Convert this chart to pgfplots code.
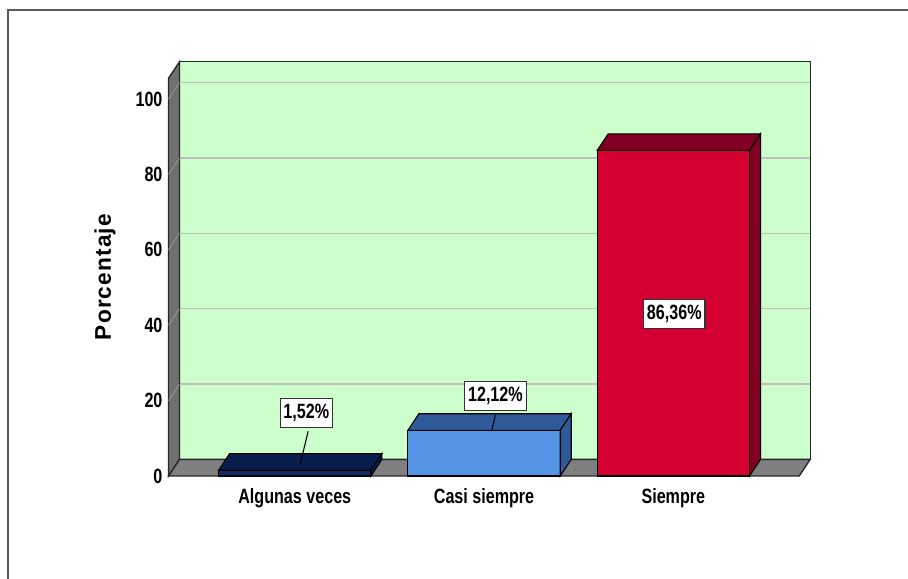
\documentclass[border=0pt]{standalone}
\usepackage{pgfplots}
\pgfplotsset{compat=1.18}
\usepackage{fontspec}
\setmainfont{Liberation Sans}
\newfontfamily\narrow{Liberation Sans}[FakeStretch=0.78]
\newfontfamily\spaced{Liberation Sans}[LetterSpace=5]
\definecolor{wallgreen}{HTML}{CCFFCC}
\definecolor{wallgray}{HTML}{707070}
\definecolor{floorgray}{HTML}{7F7F7F}
\definecolor{gridgray}{HTML}{BDBDBD}
\definecolor{navyfront}{HTML}{112B66}
\definecolor{navytop}{HTML}{0A1E4E}
\definecolor{bluefront}{HTML}{5594E4}
\definecolor{bluetop}{HTML}{2E5B98}
\definecolor{redfront}{HTML}{D50032}
\definecolor{redtop}{HTML}{7F0020}
\begin{document}
\begin{tikzpicture}
\useasboundingbox (0pt,0pt) rectangle (681pt,434.25pt);
\draw[line width=1.5pt, color=black!65] (6pt,-2pt) -- (6pt,427pt) -- (683pt,427pt);
\begin{axis}[
  at={(126.375pt,77.25pt)}, anchor=south west, scale only axis,
  width=481.3pt, height=310.7pt,
  xmin=-0.667, xmax=2.7231, ymin=0, ymax=109.9,
  clip=false,
  axis line style={draw=none}, major tick length=0pt,
  xtick={0,1,2}, xticklabels={Algunas veces, Casi siempre, Siempre},
  ytick={0,20,40,60,80,100},
  /pgf/number format/assume math mode=true,
  ticklabel style={font=\narrow\bfseries\fontsize{15.5}{17}\selectfont, text=black},
  xticklabel style={yshift=-6pt},
  yticklabel style={xshift=-1pt},
  ylabel={Porcentaje},
  ylabel style={at={(axis description cs:-0.099,0.48)}, anchor=center,
    font=\spaced\bfseries\fontsize{17}{19}\selectfont, text=black},
]
% back wall
\addplot[fill=wallgreen, draw=black!85, line width=1pt] coordinates {(-0.6089,4.4) (2.7231,4.4) (2.7231,109.9) (-0.6089,109.9)} -- cycle;
% gridlines on back wall
\addplot[gridgray, line width=1pt] coordinates {(-0.6089,24.4) (2.7231,24.4)};
\addplot[gridgray, line width=1pt] coordinates {(-0.6089,44.4) (2.7231,44.4)};
\addplot[gridgray, line width=1pt] coordinates {(-0.6089,64.4) (2.7231,64.4)};
\addplot[gridgray, line width=1pt] coordinates {(-0.6089,84.4) (2.7231,84.4)};
\addplot[gridgray, line width=1pt] coordinates {(-0.6089,104.4) (2.7231,104.4)};
% left wall
\addplot[fill=wallgray, draw=black!85, line width=1pt] coordinates {(-0.667,0) (-0.6089,4.4) (-0.6089,109.9) (-0.667,105.5)} -- cycle;
\addplot[gridgray!80!black, line width=0.6pt] coordinates {(-0.667,20) (-0.6089,24.4)};
\addplot[gridgray!80!black, line width=0.6pt] coordinates {(-0.667,40) (-0.6089,44.4)};
\addplot[gridgray!80!black, line width=0.6pt] coordinates {(-0.667,60) (-0.6089,64.4)};
\addplot[gridgray!80!black, line width=0.6pt] coordinates {(-0.667,80) (-0.6089,84.4)};
\addplot[gridgray!80!black, line width=0.6pt] coordinates {(-0.667,100) (-0.6089,104.4)};
% floor
\addplot[fill=floorgray, draw=black!85, line width=1pt] coordinates {(-0.667,0) (2.665,0) (2.7231,4.4) (-0.6089,4.4)} -- cycle;
% bar 1: Algunas veces 1.52
\addplot[ybar, bar width=0.805, fill=navyfront, draw=black, line width=0.8pt] coordinates {(0,1.52)};
\addplot[fill=navytop, draw=black, line width=0.8pt] coordinates {(-0.4025,1.52) (0.4025,1.52) (0.4606,5.92) (-0.3444,5.92)} -- cycle;
\addplot[fill=navytop, draw=black, line width=0.8pt] coordinates {(0.4025,0) (0.4606,4.4) (0.4606,5.92) (0.4025,1.52)} -- cycle;
% bar 2: Casi siempre 12.12
\addplot[ybar, bar width=0.805, fill=bluefront, draw=black, line width=0.8pt] coordinates {(1,12.12)};
\addplot[fill=bluetop, draw=black, line width=0.8pt] coordinates {(0.5975,12.12) (1.4025,12.12) (1.4606,16.52) (0.6556,16.52)} -- cycle;
\addplot[fill=bluetop, draw=black, line width=0.8pt] coordinates {(1.4025,0) (1.4606,4.4) (1.4606,16.52) (1.4025,12.12)} -- cycle;
% bar 3: Siempre 86.36
\addplot[ybar, bar width=0.805, fill=redfront, draw=black, line width=0.8pt] coordinates {(2,86.36)};
\addplot[fill=redtop, draw=black, line width=0.8pt] coordinates {(1.5975,86.36) (2.4025,86.36) (2.4606,90.76) (1.6556,90.76)} -- cycle;
\addplot[fill=redtop, draw=black, line width=0.8pt] coordinates {(2.4025,0) (2.4606,4.4) (2.4606,90.76) (2.4025,86.36)} -- cycle;
% leader lines
\addplot[black, line width=0.8pt] coordinates {(0.071,11.9) (0.029,3.2)};
\addplot[black, line width=0.8pt] coordinates {(1.06,16.2) (1.04,11.9)};
% value labels
\addplot[draw=none, mark=none, nodes near coords, point meta=explicit symbolic,
  every node near coord/.append style={anchor=center, fill=white, draw=black!80, line width=0.8pt,
    text=black, font=\narrow\bfseries\fontsize{15.5}{17}\selectfont, inner xsep=2.5pt, inner ysep=4pt}]
  coordinates {(0.061,16.7) [{1,52\%}] (1.06,21.2) [{12,12\%}] (2.005,43.0) [{86,36\%}]};
\end{axis}
\end{tikzpicture}
\end{document}
